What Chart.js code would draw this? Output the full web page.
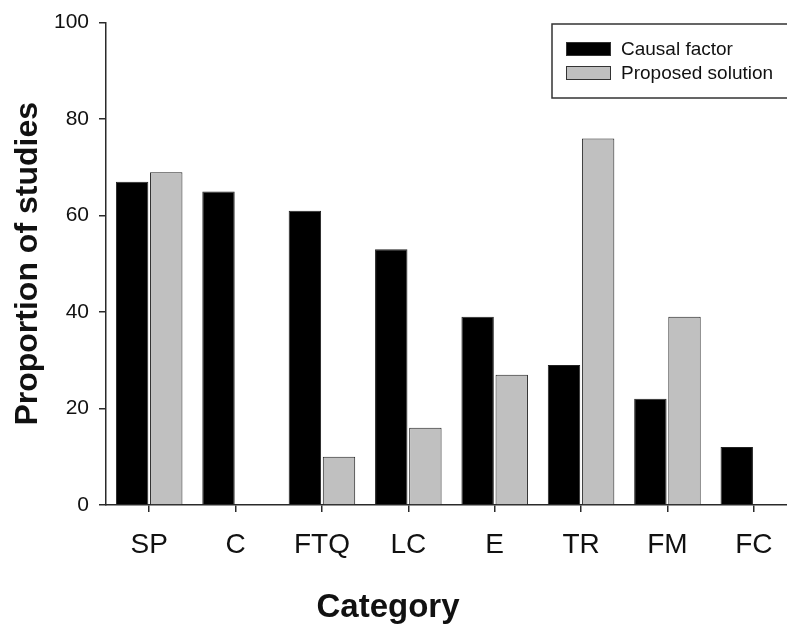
<!DOCTYPE html>
<html>
<head>
<meta charset="utf-8">
<script src="https://cdn.jsdelivr.net/npm/chart.js@4/dist/chart.umd.min.js"></script>
<style>
  html, body { margin: 0; padding: 0; background: #fff; overflow: hidden; }
  #wrap { width: 800px; height: 624px; }
</style>
</head>
<body>
<div id="wrap"><canvas id="chart"></canvas></div>
<script>
// values
const categories = ['SP', 'C', 'FTQ', 'LC', 'E', 'TR', 'FM', 'FC'];
const causalFactor = [67, 65, 61, 53, 39, 29, 22, 12];
const proposedSolution = [69, 0, 10, 16, 27, 76, 39, 0];
const seriesNames = ['Causal factor', 'Proposed solution'];
const yTicks = [0, 20, 40, 60, 80, 100];

const FONT = '"Liberation Sans", Arial, Helvetica, sans-serif';
const axisColor = '#2a2a2a';

// legend box inside the plot + axis titles placed like the original
const decorations = {
    id: 'decorations',
    afterDraw(chart) {
        const ctx = chart.ctx;
        const area = chart.chartArea;
        ctx.save();

        // legend
        const bx = 552, by = 24, bw = 243, bh = 74;
        ctx.strokeStyle = '#333';
        ctx.lineWidth = 1.5;
        ctx.strokeRect(bx, by, bw, bh);
        ctx.font = '19px ' + FONT;
        ctx.textBaseline = 'middle';
        chart.data.datasets.forEach((ds, i) => {
            const y = by + 25 + i * 24;
            ctx.fillStyle = ds.backgroundColor;
            ctx.fillRect(bx + 14, y - 7, 45, 14);
            ctx.strokeStyle = '#333';
            ctx.lineWidth = 1;
            ctx.strokeRect(bx + 14.5, y - 6.5, 44, 13);
            ctx.fillStyle = '#111';
            ctx.textAlign = 'left';
            ctx.fillText(ds.label, bx + 69, y + 1);
        });

        // axis titles
        ctx.fillStyle = '#111';
        ctx.font = 'bold 33px ' + FONT;
        ctx.textAlign = 'center';
        ctx.textBaseline = 'alphabetic';
        ctx.fillText('Category', 388, 617);

        ctx.translate(37, (area.top + area.bottom) / 2);
        ctx.rotate(-Math.PI / 2);
        ctx.font = 'bold 32px ' + FONT;
        ctx.fillText('Proportion of studies', 0, 0);
        ctx.restore();
    }
};

const ctx = document.getElementById('chart').getContext('2d');
new Chart(ctx, {
    type: 'bar',
    data: {
        labels: categories,
        datasets: [
            { label: seriesNames[0], data: causalFactor, backgroundColor: '#000000', borderColor: '#222', borderWidth: 1 },
            { label: seriesNames[1], data: proposedSolution, backgroundColor: '#c0c0c0', borderColor: '#222', borderWidth: 1 }
        ]
    },
    options: {
        responsive: true,
        maintainAspectRatio: false,
        animation: false,
        layout: { padding: { top: 20, right: 3, left: 0, bottom: 0 } },
        datasets: { bar: { categoryPercentage: 0.79, barPercentage: 0.95 } },
        plugins: {
            legend: { display: false },
            tooltip: { enabled: false }
        },
        scales: {
            x: {
                grid: { display: true, drawOnChartArea: false, drawTicks: true, tickLength: 7, offset: false, color: axisColor, lineWidth: 1.5 },
                border: { display: true, color: axisColor, width: 1.5 },
                ticks: { color: '#111', font: { family: FONT, size: 28 }, padding: 16, maxRotation: 0 },
                afterFit(scale) { scale.height = 119; }
            },
            y: {
                min: 0,
                max: 100,
                afterBuildTicks(scale) { scale.ticks = yTicks.map(v => ({ value: v })); },
                grid: { display: true, drawOnChartArea: false, drawTicks: true, tickLength: 7, color: axisColor, lineWidth: 1.5 },
                border: { display: true, color: axisColor, width: 1.5 },
                ticks: { color: '#111', font: { family: FONT, size: 21 }, padding: 10 },
                afterFit(scale) { scale.width = 106; }
            }
        }
    },
    plugins: [decorations]
});
</script>
</body>
</html>
